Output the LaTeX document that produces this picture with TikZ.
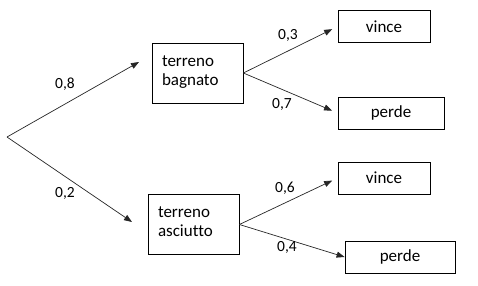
\documentclass[tikz,border=0pt]{standalone}
\usepackage{fontspec}
\setmainfont{Carlito}[Ligatures=NoCommon]
\usetikzlibrary{arrows.meta}

\tikzset{
  terreno/.style={draw, line width=0.8pt, minimum width=91pt, minimum height=60pt,
    text width=71pt, align=left, inner xsep=10pt, inner ysep=0pt, text depth=24pt},
  esito/.style={draw, line width=0.8pt, minimum height=32pt, inner sep=0pt},
  ramo/.style={-{Triangle[length=8pt,width=6pt]}, line width=0.7pt, draw=black!85},
  prob/.style={font=\fontsize{15.5}{18}\selectfont},
}

\begin{document}
\begin{tikzpicture}[x=1pt, y=-1pt, font=\fontsize{17}{19}\selectfont]
  \useasboundingbox (0,0) rectangle (478,285);

  % terreno
  \coordinate (radice) at (7,137);
  \node[terreno] (bagnato) at (197.5,73) {terreno\\bagnato};
  \node[terreno] (asciutto) at (193.5,224.5) {terreno\\asciutto};

  % esiti
  \node[esito, minimum width=92pt] (vinceA) at (384,26.5) {vince};
  \node[esito, minimum width=106pt] (perdeA) at (391,113) {perde};
  \node[esito, minimum width=92pt] (vinceB) at (384,178) {vince};
  \node[esito, minimum width=110pt] (perdeB) at (400,257) {perde};

  \coordinate (puntaA) at (139,62);
  \coordinate (puntaB) at (132,222);
  \draw[ramo] (radice) -- (puntaA);
  \draw[ramo] (radice) -- (puntaB);
  \draw[ramo, shorten >=6pt] (bagnato.east) -- (vinceA.west);
  \draw[ramo, shorten >=6pt] (bagnato.east) -- (perdeA.west);
  \draw[ramo, shorten >=6pt] (asciutto.east) -- (vinceB.west);
  \draw[ramo] (asciutto.east) -- (perdeB.west);

  % probabilita
  \node[prob] (p08) at (65,84) {0,8};
  \node[prob] (p02) at (65,193) {0,2};
  \node[prob] (p03) at (288,35) {0,3};
  \node[prob] (p07) at (282,104) {0,7};
  \node[prob] (p06) at (285,188) {0,6};
  \node[prob] (p04) at (287,247) {0,4};
\end{tikzpicture}
\end{document}
